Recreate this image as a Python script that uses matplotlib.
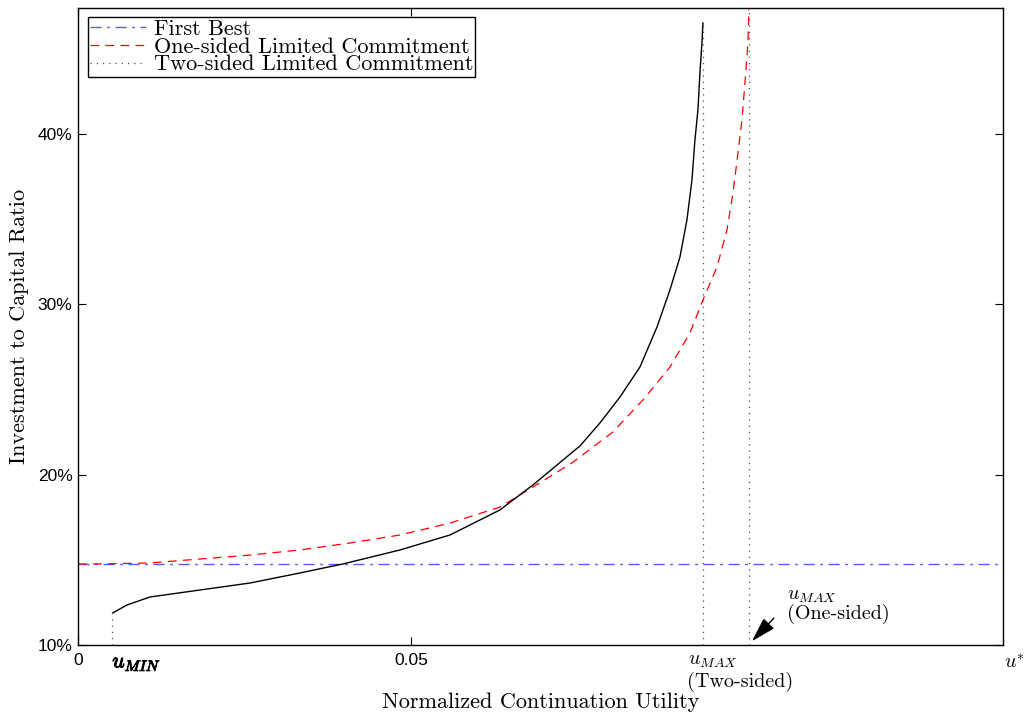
import numpy as np
import matplotlib
matplotlib.use('Agg')
import matplotlib.pyplot as plt
import matplotlib.patheffects as pe

plt.rcParams['mathtext.fontset'] = 'cm'
plt.rcParams['font.family'] = ['Liberation Sans', 'DejaVu Sans']

# values
first_best = 0.1476
u_min = 0.00515
u_max_two = 0.0938
u_max_one = 0.1008
u_star = 0.1389

# two-sided limited commitment (black solid)
two_u = [0.00521, 0.00736, 0.01081, 0.01832, 0.02583, 0.03333, 0.03979, 0.04835,
         0.05586, 0.06336, 0.06832, 0.07538, 0.07838, 0.08138, 0.08438, 0.08694,
         0.08889, 0.09039, 0.09144, 0.09219, 0.09264, 0.09309, 0.09339, 0.09369,
         0.09384]
two_i = [0.1188, 0.1235, 0.1282, 0.1323, 0.1364, 0.1423, 0.1476, 0.1558,
         0.1646, 0.1793, 0.1940, 0.2169, 0.2304, 0.2456, 0.2632, 0.2867,
         0.3085, 0.3278, 0.3496, 0.3730, 0.3965, 0.4142, 0.4359, 0.4535,
         0.4652]

# one-sided limited commitment (red dashed)
one_u = [0.0, 0.00330, 0.01081, 0.01832, 0.02583, 0.03333, 0.04084, 0.04835,
         0.05586, 0.06336, 0.06832, 0.07417, 0.08033, 0.08483, 0.08889, 0.09189,
         0.09384, 0.09595, 0.09745, 0.09835, 0.09910, 0.09970, 0.10015, 0.10060,
         0.10075]
one_i = [0.1476, 0.1476, 0.1482, 0.1505, 0.1528, 0.1558, 0.1599, 0.1646,
         0.1716, 0.1810, 0.1928, 0.2069, 0.2251, 0.2439, 0.2632, 0.2832,
         0.3026, 0.3220, 0.3437, 0.3654, 0.3889, 0.4083, 0.4300, 0.4535,
         0.4740]

y_ticks = [0.10, 0.20, 0.30, 0.40]
y_labels = ['10%', '20%', '30%', '40%']

fig = plt.figure(figsize=(10.26, 7.17), dpi=100)
ax = fig.add_axes([0.076, 0.1004, 0.9016, 0.8884])

xmax = u_star
ymin, ymax = 0.10, 0.474

# first best
fb, = ax.plot([0, xmax], [first_best, first_best], color=(0.35, 0.35, 1.0),
              lw=1.0, dashes=(8, 4, 2, 4))
# one-sided
os_, = ax.plot(one_u, one_i, color='red', lw=0.9, dashes=(7, 5))
# two-sided
ax.plot(two_u, two_i, color='black', lw=1.0, solid_joinstyle='round')

# dotted verticals
dv, = ax.plot([u_min, u_min], [ymin, two_i[0]], color='0.3', lw=0.9, ls=(0, (1, 4)))
ax.plot([u_max_two, u_max_two], [ymin, two_i[-1]], color='0.3', lw=0.9, ls=(0, (1, 4)))
ax.plot([u_max_one, u_max_one], [ymin, ymax], color='0.3', lw=0.9, ls=(0, (1, 4)))

ax.set_xlim(0, xmax)
ax.set_ylim(ymin, ymax)

ax.set_xticks([0, 0.05])
ax.set_xticklabels(['', ''])
ax.set_yticks(y_ticks)
ax.set_yticklabels(y_labels, fontsize=12.5)
ax.tick_params(direction='in', length=6, top=True, right=True, width=0.8)
ax.tick_params(axis='y', pad=4)
for s in ax.spines.values():
    s.set_linewidth(1.0)

xt = ax.get_xaxis_transform()
# x tick texts
ax.text(0, -0.012, '0', transform=xt, ha='center', va='top', fontsize=12.5)
ax.text(0.05, -0.012, '0.05', transform=xt, ha='center', va='top', fontsize=12.5)
ax.text(u_min, -0.011, r'$u_{MIN}$', transform=xt, ha='left', va='top', fontsize=15.5,
        path_effects=[pe.withStroke(linewidth=0.7, foreground='black')])
ax.text(u_max_two - 0.0022, -0.010, r'$u_{MAX}$', transform=xt,
        ha='left', va='top', fontsize=14.5)
ax.text(u_max_two - 0.0023, -0.042, '(Two-sided)', transform=xt,
        ha='left', va='top', fontsize=14.5, family='cmr10')
ax.text(xmax + 0.0002, -0.012, r'$u^{*}$', transform=xt,
        ha='left', va='top', fontsize=14.5)

# one-sided annotation
ax.annotate('', xy=(u_max_one + 0.0001, ymin + 0.001), xytext=(u_max_one + 0.0040, 0.117),
            arrowprops=dict(arrowstyle='-|>,head_length=1.1,head_width=0.32',
                            color='black', lw=1.0, mutation_scale=14))
ax.text(u_max_one + 0.0056, 0.1237, r'$u_{MAX}$', ha='left', va='bottom', fontsize=14.5)
ax.text(u_max_one + 0.0056, 0.1184, '(One-sided)', ha='left', va='center',
        fontsize=14.5, family='cmr10')

ax.set_xlabel('Normalized Continuation Utility', family='cmr10', fontsize=16, labelpad=31)
ax.set_ylabel('Investment to Capital Ratio', family='cmr10', fontsize=16, labelpad=6)

leg = ax.legend([fb, os_, dv],
                ['First Best', 'One-sided Limited Commitment', 'Two-sided Limited Commitment'],
                loc='upper left', bbox_to_anchor=(0.011, 0.986), prop={'family': 'cmr10', 'size': 16},
                fancybox=False, framealpha=1, edgecolor='black', borderpad=0.1,
                labelspacing=-0.08, handlelength=2.5, handletextpad=0.35, borderaxespad=0)
leg.get_frame().set_linewidth(1.0)

fig.savefig('out.png', dpi=100)
